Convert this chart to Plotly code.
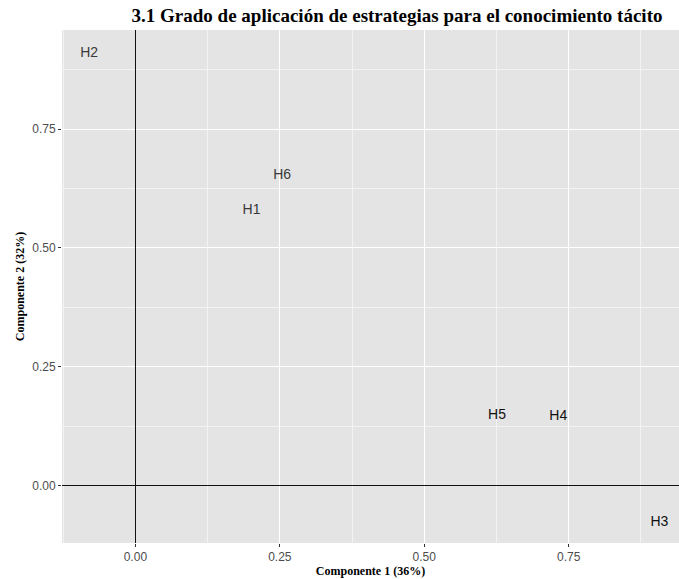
import plotly.graph_objects as go

labels = ["H1", "H2", "H3", "H4", "H5", "H6"]
comp1 = [0.201, -0.080, 0.907, 0.732, 0.626, 0.254]
comp2 = [0.579, 0.910, -0.077, 0.145, 0.148, 0.653]
label_colors = ["#3a3a3a", "#3a3a3a", "#111111", "#111111", "#111111", "#3a3a3a"]

x_ticks = [0.0, 0.25, 0.5, 0.75]
y_ticks = [0.0, 0.25, 0.5, 0.75]
x_ticktext = ["0.00", "0.25", "0.50", "0.75"]
y_ticktext = ["0.00", "0.25", "0.50", "0.75"]

fig = go.Figure()
fig.add_trace(go.Scatter(
    x=comp1, y=comp2, text=labels, mode="text",
    textposition="middle center", cliponaxis=False,
    textfont=dict(family="Liberation Sans, Arial, sans-serif", size=14, color=label_colors),
    hoverinfo="text", showlegend=False,
))

axis_common = dict(
    showgrid=True, gridcolor="white", gridwidth=1.1,
    minor=dict(dtick=0.125, tick0=0, showgrid=True, gridcolor="#F3F3F3", gridwidth=0.6, ticks=""),
    zeroline=True, zerolinecolor="#111111", zerolinewidth=1.2,
    ticks="outside", ticklen=3, tickcolor="#333333", tickwidth=1,
    tickfont=dict(family="Liberation Sans, Arial, sans-serif", size=12, color="#4D4D4D"),
    showline=False,
)

fig.update_layout(
    width=679, height=579,
    margin=dict(l=62, r=0, t=30, b=36),
    paper_bgcolor="white", plot_bgcolor="#E4E4E4",
    title=dict(
        text="<b>3.1 Grado de aplicación de estrategias para el conocimiento tácito</b>",
        font=dict(family="Liberation Serif, Times New Roman, serif", size=19, color="black"),
        xref="paper", x=0.543, xanchor="center",
        yref="container", y=1 - 15 / 579, yanchor="middle",
    ),
    xaxis=dict(
        range=[-0.127, 0.941], tickvals=x_ticks, ticktext=x_ticktext,
        title=dict(text="<b>Componente 1 (36%)</b>",
                   font=dict(family="Liberation Serif, Times New Roman, serif", size=12, color="black"),
                   standoff=3),
        **axis_common,
    ),
    yaxis=dict(
        range=[-0.121, 0.9586], tickvals=y_ticks, ticktext=y_ticktext,
        title=dict(text="<b>Componente 2 (32%)</b>",
                   font=dict(family="Liberation Serif, Times New Roman, serif", size=12, color="black"),
                   standoff=5),
        **axis_common,
    ),
)

fig.write_html("out.html", config={"displayModeBar": False},
               post_script="document.body.style.margin='0';document.body.style.overflow='hidden';")
